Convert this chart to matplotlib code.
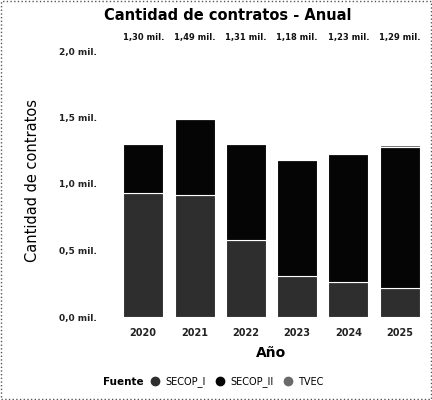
import matplotlib
matplotlib.use("Agg")
import matplotlib.pyplot as plt
from matplotlib.lines import Line2D
from matplotlib.patches import Rectangle
import matplotlib.transforms as mtransforms

years = ["2020", "2021", "2022", "2023", "2024", "2025"]
# thousands of contracts
secop_i = [0.93, 0.92, 0.58, 0.31, 0.26, 0.22]
secop_ii = [0.368, 0.566, 0.72, 0.868, 0.962, 1.06]
tvec = [0.002, 0.004, 0.01, 0.002, 0.008, 0.01]
ytick_vals = [0.0, 0.5, 1.0, 1.5, 2.0]
ytick_labels = ["0,0 mil.", "0,5 mil.", "1,0 mil.", "1,5 mil.", "2,0 mil."]
series_names = ["SECOP_I", "SECOP_II", "TVEC"]
colors = ["#2e2e2e", "#050505", "#6a6a6a"]

plt.rcParams["font.family"] = ["DejaVu Sans"]

fig = plt.figure(figsize=(4.32, 4.00), dpi=100)
ax = fig.add_axes([115 / 432, 83 / 400, 313 / 432, 266 / 400])

x = range(len(years))
bottom = [0.0] * len(years)
for vals, c in zip([secop_i, secop_ii, tvec], colors):
    ax.bar(x, vals, width=0.78, bottom=bottom, color=c,
           edgecolor="white", linewidth=0.8)
    bottom = [b + v for b, v in zip(bottom, vals)]

# totals row above the plot
trans = mtransforms.blended_transform_factory(ax.transData, ax.transAxes)
for i, t in enumerate(bottom):
    lab = f"{t:.2f}".replace(".", ",") + " mil."
    ax.text(i, 1.05, lab, transform=trans, ha="center", va="center",
            fontsize=6, color="#111111", fontweight="semibold")

ax.set_xlim(-0.55, len(years) - 0.45)
ax.set_ylim(0, 2.0)
ax.set_xticks(list(x))
ax.set_xticklabels(years, fontsize=7, fontweight="bold", color="#222222")
ax.set_yticks(ytick_vals)
ax.set_yticklabels(ytick_labels, fontsize=6.5, color="#222222",
                   fontweight="semibold")
ax.tick_params(axis="x", length=0, pad=8)
ax.tick_params(axis="y", length=0, pad=13)
for s in ax.spines.values():
    s.set_visible(False)

ax.set_xlabel("Año", fontsize=10, fontweight="bold", labelpad=6)
fig.text(33 / 432, 0.55, "Cantidad de contratos", rotation=90,
         ha="center", va="center", fontsize=10.5)
fig.text(228 / 432, 0.962, "Cantidad de contratos - Anual", ha="center",
         va="center", fontsize=10.5, fontweight="bold")

# legend
fig.text(103 / 432, 0.045, "Fuente", ha="left", va="center",
         fontsize=7.5, fontweight="bold")
handles = [Line2D([], [], marker="o", ls="", color=c, markersize=6)
           for c in colors]
fig.legend(handles, series_names, loc="center left",
           bbox_to_anchor=(145 / 432, 0.045), ncol=3, frameon=False,
           fontsize=7, handletextpad=0.05, columnspacing=0.5,
           borderaxespad=0, borderpad=0)

fig.patches.append(Rectangle((0.003, 0.003), 0.994, 0.994,
                             transform=fig.transFigure, fill=False,
                             ls=":", lw=1, ec="#555555"))

fig.savefig("out.png", dpi=100)
